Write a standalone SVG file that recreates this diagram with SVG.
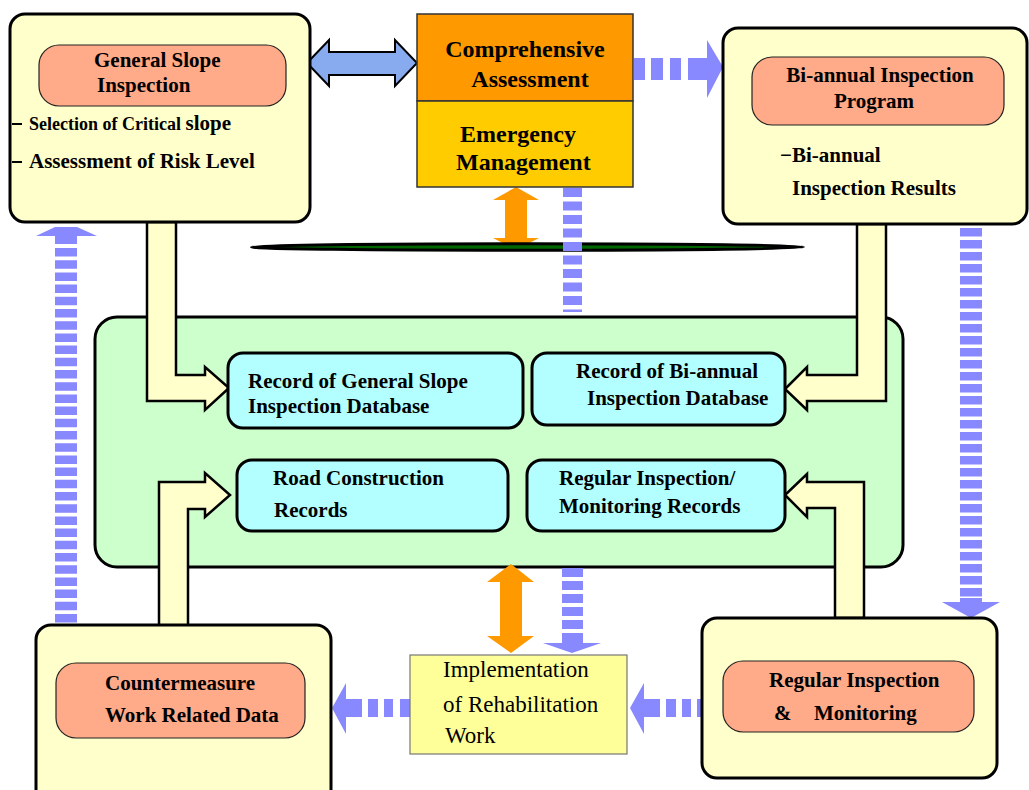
<svg xmlns="http://www.w3.org/2000/svg" width="1029" height="790" viewBox="0 0 1029 790">
<style>
text{font-family:"Liberation Serif","Times New Roman",serif;font-weight:bold;fill:#000}
.big{font-size:24px}
.t21{font-size:21px}
.reg{font-weight:normal;font-size:23px}
.ybox{fill:#FFFFCC;stroke:#000;stroke-width:3}
.pill{fill:#FFAA88;stroke:#222;stroke-width:1.2}
.cyan{fill:#B3FFFF;stroke:#000;stroke-width:3}
.yarrow{fill:#FFFFCC;stroke:#000;stroke-width:2.5;stroke-linejoin:miter}
.blue{fill:#8888FF}
.bdash{stroke:#8888FF;fill:none}
.orange{fill:#FF9900}
</style>
<rect width="1029" height="790" fill="#FFFFFF"/>

<g id="database-container">
<rect x="95" y="317" width="808" height="250" rx="22" fill="#CCFFCC" stroke="#000" stroke-width="3"/>
</g>

<g id="connectors">
<polygon points="307,63 329,40 329,52 395,52 395,40 417,63 395,86 395,75 329,75 329,86" fill="#88AAEE" stroke="#000" stroke-width="2"/>
<g class="blue">
<rect x="634" y="58" width="11" height="22"/>
<rect x="651" y="58" width="12" height="22"/>
<rect x="670" y="58" width="11" height="22"/>
<polygon points="688,58 707,58 707,40 723,67 707,98 707,80 688,80"/>
</g>
<polygon class="orange" points="516,187 539,200 527,200 527,238 539,238 516,250 493,238 505,238 505,200 493,200"/>
<ellipse cx="527.5" cy="247" rx="276" ry="3.2" fill="#006600" stroke="#000" stroke-width="3"/>
<line class="bdash" x1="572.5" y1="188" x2="572.5" y2="312" stroke-width="19" stroke-dasharray="9 4.5"/>
<g class="blue">
<polygon points="55,227 77,227 97,236 36,236"/>
<rect x="55" y="236" width="22" height="8"/>
</g>
<line class="bdash" x1="66" y1="248" x2="66" y2="625" stroke-width="22" stroke-dasharray="8.5 3.7"/>
<line class="bdash" x1="971" y1="228" x2="971" y2="598" stroke-width="22" stroke-dasharray="8.5 3.5"/>
<polygon class="blue" points="960,598 982,598 982,602 1000,602 971,618 942,602 960,602"/>
<polygon class="orange" points="511,564 534,582 522,582 522,636 534,636 511,653 487,636 500,636 500,582 487,582"/>
<line class="bdash" x1="572.5" y1="568" x2="572.5" y2="640" stroke-width="21" stroke-dasharray="9 4"/>
<polygon class="blue" points="562,638 583,638 583,643 601,643 572,653 543,643 562,643"/>
<g class="blue">
<polygon points="332,708 346,683 346,699 362,699 362,717 346,717 346,734"/>
<rect x="368" y="699" width="10" height="18"/>
<rect x="384" y="699" width="9" height="18"/>
<rect x="400" y="699" width="10" height="18"/>
</g>
<g class="blue">
<polygon points="630,708 644,683 644,699 660,699 660,717 644,717 644,734"/>
<rect x="666" y="699" width="10" height="18"/>
<rect x="682" y="699" width="9" height="18"/>
<rect x="697" y="699" width="5" height="18"/>
</g>
<polygon class="yarrow" points="147,222 176,222 176,375 205,375 205,367 229,388 205,410 205,401 147,401"/>
<polygon class="yarrow" points="159,626 159,482 205,482 205,473 230,495 205,517 205,509 188,509 188,626"/>
<polygon class="yarrow" points="857,224 886,224 886,401 807,401 807,410 785,389 807,367 807,375 857,375"/>
<polygon class="yarrow" points="864,618 864,482 807,482 807,474 785,495 807,517 807,508 835,508 835,618"/>
</g>

<g id="general-slope">
<rect class="ybox" x="10" y="14" width="300" height="208" rx="15"/>
<rect class="pill" x="39" y="45" width="247" height="61" rx="20"/>
<text class="t21" x="94" y="67">General Slope</text>
<text class="t21" x="97" y="92">Inspection</text>
<line x1="12" y1="124" x2="22" y2="124" stroke="#000" stroke-width="2"/>
<text x="29" y="130" style="font-size:18px">Selection of Critical <tspan style="font-size:21px">slope</tspan></text>
<line x1="12" y1="162" x2="22" y2="162" stroke="#000" stroke-width="2"/>
<text class="t21" x="29" y="168">Assessment of Risk Level</text>
</g>

<g id="comprehensive-assessment">
<rect x="417" y="14" width="216" height="87" fill="#FF9900" stroke="#333" stroke-width="1.5"/>
<text class="big" x="525" y="57" text-anchor="middle">Comprehensive</text>
<text class="big" x="530" y="87" text-anchor="middle">Assessment</text>
</g>

<g id="emergency-management">
<rect x="417" y="101" width="216" height="86" fill="#FFCC00" stroke="#333" stroke-width="1.5"/>
<text class="big" x="460" y="142">Emergency</text>
<text class="big" x="456" y="170">Management</text>
</g>

<g id="biannual">
<rect class="ybox" x="723" y="28" width="304" height="196" rx="15"/>
<rect class="pill" x="752" y="57" width="252" height="68" rx="20"/>
<text class="t21" x="880" y="82" text-anchor="middle">Bi-annual Inspection</text>
<text class="t21" x="874" y="108" text-anchor="middle">Program</text>
<text class="t21" x="780" y="162">−Bi-annual</text>
<text class="t21" x="792" y="195">Inspection Results</text>
</g>

<g id="record-general-slope">
<rect class="cyan" x="228" y="353" width="295" height="75" rx="15"/>
<text class="t21" x="248" y="388">Record of General Slope</text>
<text class="t21" x="248" y="413">Inspection Database</text>
</g>

<g id="record-biannual">
<rect class="cyan" x="532" y="353" width="253" height="72" rx="15"/>
<text class="t21" x="576" y="378">Record of Bi-annual</text>
<text class="t21" x="587" y="405">Inspection Database</text>
</g>

<g id="road-construction">
<rect class="cyan" x="237" y="460" width="271" height="71" rx="15"/>
<text class="t21" x="273" y="485">Road Construction</text>
<text class="t21" x="274" y="517">Records</text>
</g>

<g id="regular-records">
<rect class="cyan" x="527" y="460" width="258" height="71" rx="15"/>
<text class="t21" x="559" y="485">Regular Inspection/</text>
<text class="t21" x="559" y="513">Monitoring Records</text>
</g>

<g id="countermeasure">
<rect class="ybox" x="36" y="625" width="295" height="180" rx="15"/>
<rect class="pill" x="56" y="663" width="249" height="75" rx="20"/>
<text class="t21" x="105" y="690">Countermeasure</text>
<text class="t21" x="105" y="722">Work Related Data</text>
</g>

<g id="implementation">
<rect x="410" y="655" width="217" height="99" fill="#FFFF99" stroke="#777" stroke-width="1.2"/>
<text class="reg" x="443" y="677">Implementation</text>
<text class="reg" x="443" y="712">of Rehabilitation</text>
<text class="reg" x="445" y="743">Work</text>
</g>

<g id="regular-inspection">
<rect class="ybox" x="702" y="618" width="295" height="160" rx="15"/>
<rect class="pill" x="723" y="661" width="251" height="71" rx="20"/>
<text class="t21" x="769" y="687">Regular Inspection</text>
<text class="t21" x="774" y="720">&amp;</text>
<text class="t21" x="814" y="720">Monitoring</text>
</g>
</svg>
